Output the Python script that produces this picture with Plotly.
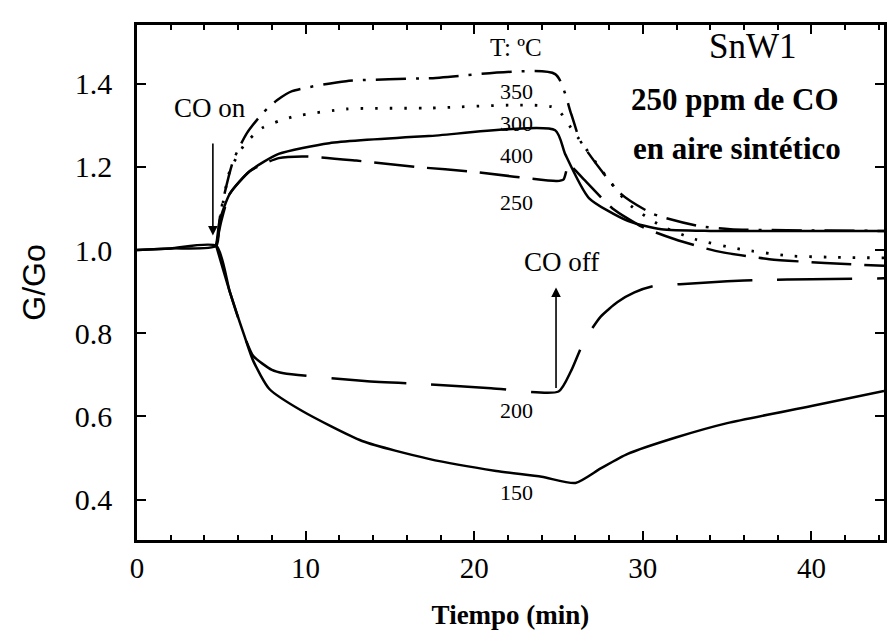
import plotly.graph_objects as go

# Conductance response of SnW1 to 250 ppm CO at several temperatures
t150 = [0, 2, 4.7, 5.5, 6.4, 6.9, 7.85, 9.8, 13.35, 17.3, 21.3, 24.0, 26.0, 27.5, 29.1, 32.0, 35.0, 40.0, 44.3]
g150 = [1.0, 1.004, 1.01, 0.90, 0.79, 0.733, 0.666, 0.613, 0.541, 0.498, 0.469, 0.455, 0.44, 0.475, 0.51, 0.55, 0.584, 0.625, 0.661]

t200 = [4.7, 5.5, 6.4, 6.9, 8.0, 8.7, 13.5, 17.3, 21.0, 25.0, 25.75, 26.5, 27.5, 28.5, 29.5, 30.6, 32.2, 35.0, 37.0, 40.0, 44.3]
g200 = [1.01, 0.90, 0.79, 0.745, 0.712, 0.704, 0.685, 0.677, 0.668, 0.66, 0.71, 0.78, 0.84, 0.875, 0.898, 0.913, 0.918, 0.925, 0.928, 0.93, 0.932]

t250 = [4.7, 5.0, 5.5, 6.7, 8.4, 10.0, 13.0, 16.5, 20.0, 24.9, 25.3, 25.6, 26.5, 28.2, 30.0, 31.9, 34.3, 37.5, 40.8, 44.3]
g250 = [1.01, 1.07, 1.135, 1.19, 1.221, 1.225, 1.215, 1.20, 1.188, 1.166, 1.17, 1.205, 1.17, 1.10, 1.055, 1.026, 0.998, 0.978, 0.969, 0.962]

t300 = [4.7, 5.0, 5.5, 6.4, 7.4, 8.4, 9.4, 12.4, 17.1, 24.8, 25.75, 27.4, 29.1, 31.0, 33.1, 35.8, 38.7, 41.0, 44.3]
g300 = [1.01, 1.09, 1.19, 1.255, 1.293, 1.31, 1.322, 1.339, 1.341, 1.342, 1.293, 1.20, 1.113, 1.06, 1.026, 1.002, 0.986, 0.983, 0.981]

t350 = [4.7, 5.0, 5.7, 6.5, 7.45, 8.3, 9.2, 12.4, 17.3, 24.8, 25.75, 26.3, 28.7, 30.6, 33.3, 35.2, 40.0, 44.3]
g350 = [1.01, 1.10, 1.214, 1.28, 1.329, 1.36, 1.382, 1.406, 1.413, 1.423, 1.327, 1.262, 1.135, 1.087, 1.058, 1.050, 1.047, 1.046]

t400 = [0, 2, 4.7, 4.9, 5.5, 6.7, 8.4, 11.4, 17.3, 24.8, 25.4, 26.8, 29.1, 31.1, 34.0, 40.0, 44.3]
g400 = [1.0, 1.004, 1.01, 1.07, 1.135, 1.19, 1.231, 1.257, 1.274, 1.288, 1.23, 1.125, 1.07, 1.05, 1.046, 1.046, 1.046]

x_ticks = [0, 10, 20, 30, 40]
y_ticks = [0.4, 0.6, 0.8, 1.0, 1.2, 1.4]
y_tick_text = ["0.4", "0.6", "0.8", "1.0", "1.2", "1.4"]

serif = "Liberation Serif, Times New Roman, serif"
sans = "Liberation Sans, Arial, sans-serif"
ink = "black"

fig = go.Figure()

def curve(t, g, dash, width=2.5):
    fig.add_trace(go.Scatter(
        x=t, y=g, mode="lines",
        line=dict(color=ink, width=width, dash=dash, shape="spline", smoothing=0.6),
        showlegend=False, hoverinfo="skip"))

curve(t150, g150, "solid")
curve(t200, g200, "75px,25px")
curve(t250, g250, "40px,13px")
curve(t300, g300, "2.5px,12px", width=2.8)
curve(t350, g350, "30px,10px,3px,10px")
curve(t400, g400, "solid")

# curve labels (temperature in °C)
labels = [("350", 1.380), ("300", 1.305), ("400", 1.228), ("250", 1.115), ("200", 0.615), ("150", 0.416)]
for txt, yv in labels:
    fig.add_annotation(x=22.5, y=yv, text=txt, showarrow=False,
                       font=dict(family=serif, size=22, color=ink))

fig.add_annotation(x=22.5, y=1.488, text="T: ºC", showarrow=False,
                   font=dict(family=serif, size=25, color=ink))
fig.add_annotation(x=36.56, y=1.490, text="SnW1", showarrow=False,
                   font=dict(family=serif, size=35, color=ink))
fig.add_annotation(x=35.47, y=1.361, text="<b>250 ppm de CO</b>", showarrow=False,
                   font=dict(family=serif, size=31, color=ink))
fig.add_annotation(x=35.59, y=1.245, text="<b>en aire sintético</b>", showarrow=False,
                   font=dict(family=serif, size=31, color=ink))

# gas switching markers
fig.add_annotation(x=4.5, y=1.035, ax=4.5, ay=1.26, xref="x", yref="y", axref="x", ayref="y",
                   text="", showarrow=True, arrowhead=2, arrowsize=1.2, arrowwidth=1.6, arrowcolor=ink)
fig.add_annotation(x=4.31, y=1.341, text="CO on", showarrow=False,
                   font=dict(family=serif, size=27, color=ink))
fig.add_annotation(x=24.85, y=0.91, ax=24.85, ay=0.665, xref="x", yref="y", axref="x", ayref="y",
                   text="", showarrow=True, arrowhead=2, arrowsize=1.2, arrowwidth=1.6, arrowcolor=ink)
fig.add_annotation(x=25.16, y=0.971, text="CO off", showarrow=False,
                   font=dict(family=serif, size=27, color=ink))

fig.update_layout(
    width=887, height=635,
    margin=dict(l=137, r=0, t=25, b=95),
    paper_bgcolor="white", plot_bgcolor="white",
    xaxis=dict(range=[0, 44.3], tickvals=x_ticks, ticks="inside", ticklen=9, tickwidth=2,
               tickcolor=ink, showline=True, linecolor=ink, linewidth=2.5, mirror="ticks",
               showgrid=False, zeroline=False,
               minor=dict(dtick=2, ticks="inside", ticklen=5, tickwidth=1.5, tickcolor=ink),
               tickfont=dict(family=serif, size=29, color=ink),
               title=dict(text="<b>Tiempo (min)</b>", font=dict(family=serif, size=27, color=ink),
                          standoff=23)),
    yaxis=dict(range=[0.303, 1.541], tickvals=y_ticks, ticktext=y_tick_text,
               ticks="inside", ticklen=9, tickwidth=2, tickcolor=ink,
               showline=True, linecolor=ink, linewidth=2.5, mirror="ticks",
               showgrid=False, zeroline=False, ticklabelstandoff=16,
               tickfont=dict(family=serif, size=30, color=ink),
               title=dict(text="G/Go", font=dict(family=sans, size=32, color=ink),
                          standoff=20)),
)

fig.write_html("out.html")
